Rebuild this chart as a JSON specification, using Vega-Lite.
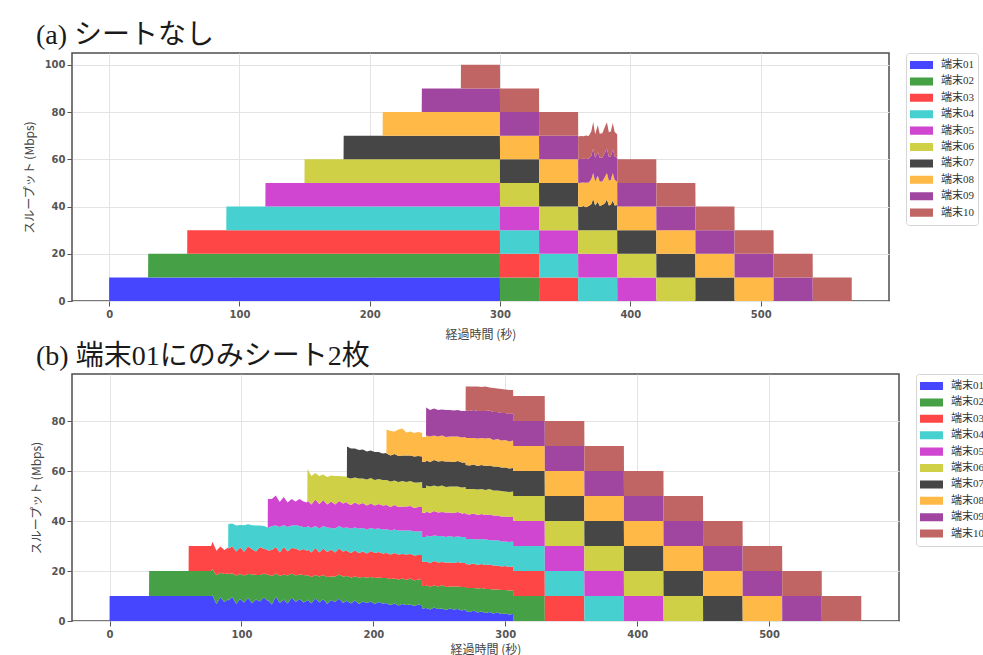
{
  "$schema": "https://vega.github.io/schema/vega-lite/v6.json",
  "padding": {"left": 22, "top": 20, "right": 0, "bottom": 0},
  "background": "white",
  "spacing": 0,
  "config": {
    "view": {"stroke": "#4d4d4d", "strokeWidth": 1.5},
    "axis": {"grid": true, "gridColor": "#e3e3e3", "gridWidth": 1, "domain": false, "tickColor": "#555", "tickSize": 5, "labelFont": "DejaVu Sans", "labelFontSize": 10, "labelFontWeight": "bold", "labelColor": "#555", "titleFont": "Noto Sans CJK JP", "titleFontSize": 12, "titleFontWeight": "normal", "titleColor": "#444"},
    "legend": {"orient": "right", "offset": 17, "padding": 4, "strokeColor": "#d5d5d5", "fillColor": "white", "cornerRadius": 3, "symbolType": "M-1,-0.35H1V0.35H-1Z", "symbolSize": 529, "symbolStrokeWidth": 0, "symbolOpacity": 1, "labelOffset": 8, "labelFont": "Liberation Serif, Noto Sans CJK JP", "labelFontSize": 11, "labelColor": "#333", "clipHeight": 16, "rowPadding": 0.4}
  },
  "datasets": {
    "a": [
      {"t": 0, "端末01": 10},
      {"t": 29.9, "端末01": 10},
      {"t": 30, "端末01": 10, "端末02": 10},
      {"t": 59.9, "端末01": 10, "端末02": 10},
      {"t": 60, "端末01": 10, "端末02": 10, "端末03": 10},
      {"t": 89.9, "端末01": 10, "端末02": 10, "端末03": 10},
      {"t": 90, "端末01": 10, "端末02": 10, "端末03": 10, "端末04": 10},
      {"t": 119.9, "端末01": 10, "端末02": 10, "端末03": 10, "端末04": 10},
      {"t": 120, "端末01": 10, "端末02": 10, "端末03": 10, "端末04": 10, "端末05": 10},
      {"t": 149.9, "端末01": 10, "端末02": 10, "端末03": 10, "端末04": 10, "端末05": 10},
      {"t": 150, "端末01": 10, "端末02": 10, "端末03": 10, "端末04": 10, "端末05": 10, "端末06": 10},
      {"t": 179.9, "端末01": 10, "端末02": 10, "端末03": 10, "端末04": 10, "端末05": 10, "端末06": 10},
      {"t": 180, "端末01": 10, "端末02": 10, "端末03": 10, "端末04": 10, "端末05": 10, "端末06": 10, "端末07": 10},
      {"t": 209.9, "端末01": 10, "端末02": 10, "端末03": 10, "端末04": 10, "端末05": 10, "端末06": 10, "端末07": 10},
      {"t": 210, "端末01": 10, "端末02": 10, "端末03": 10, "端末04": 10, "端末05": 10, "端末06": 10, "端末07": 10, "端末08": 10},
      {"t": 239.9, "端末01": 10, "端末02": 10, "端末03": 10, "端末04": 10, "端末05": 10, "端末06": 10, "端末07": 10, "端末08": 10},
      {"t": 240, "端末01": 10, "端末02": 10, "端末03": 10, "端末04": 10, "端末05": 10, "端末06": 10, "端末07": 10, "端末08": 10, "端末09": 10},
      {"t": 269.9, "端末01": 10, "端末02": 10, "端末03": 10, "端末04": 10, "端末05": 10, "端末06": 10, "端末07": 10, "端末08": 10, "端末09": 10},
      {"t": 270, "端末01": 10, "端末02": 10, "端末03": 10, "端末04": 10, "端末05": 10, "端末06": 10, "端末07": 10, "端末08": 10, "端末09": 10, "端末10": 10},
      {"t": 299.9, "端末01": 10, "端末02": 10, "端末03": 10, "端末04": 10, "端末05": 10, "端末06": 10, "端末07": 10, "端末08": 10, "端末09": 10, "端末10": 10},
      {"t": 300, "端末02": 10, "端末03": 10, "端末04": 10, "端末05": 10, "端末06": 10, "端末07": 10, "端末08": 10, "端末09": 10, "端末10": 10},
      {"t": 329.9, "端末02": 10, "端末03": 10, "端末04": 10, "端末05": 10, "端末06": 10, "端末07": 10, "端末08": 10, "端末09": 10, "端末10": 10},
      {"t": 330, "端末03": 10, "端末04": 10, "端末05": 10, "端末06": 10, "端末07": 10, "端末08": 10, "端末09": 10, "端末10": 10},
      {"t": 359.9, "端末03": 10, "端末04": 10, "端末05": 10, "端末06": 10, "端末07": 10, "端末08": 10, "端末09": 10, "端末10": 10},
      {"t": 360, "端末04": 10, "端末05": 10, "端末06": 10, "端末07": 10, "端末08": 10, "端末09": 10, "端末10": 9.6},
      {"t": 362, "端末04": 10, "端末05": 10, "端末06": 10, "端末07": 9.8, "端末08": 10.3, "端末09": 10, "端末10": 9.8},
      {"t": 364, "端末04": 10, "端末05": 10, "端末06": 10, "端末07": 10.2, "端末08": 10, "端末09": 10, "端末10": 9.6},
      {"t": 366, "端末04": 10, "端末05": 10, "端末06": 10, "端末07": 9.7, "端末08": 10.4, "端末09": 10, "端末10": 10},
      {"t": 368, "端末04": 10, "端末05": 10, "端末06": 10, "端末07": 10.2, "端末08": 10, "端末09": 10, "端末10": 9.7},
      {"t": 370, "端末04": 10, "端末05": 10, "端末06": 10, "端末07": 11, "端末08": 10.5, "端末09": 10, "端末10": 10.3},
      {"t": 371.5, "端末04": 10, "端末05": 10, "端末06": 10, "端末07": 13.2, "端末08": 11, "端末09": 10.4, "端末10": 11.2},
      {"t": 373, "端末04": 10, "端末05": 10, "端末06": 10, "端末07": 10.4, "端末08": 10.2, "端末09": 10, "端末10": 10},
      {"t": 375, "端末04": 10, "端末05": 10, "端末06": 10, "端末07": 12, "端末08": 11, "端末09": 10, "端末10": 11.4},
      {"t": 376.5, "端末04": 10, "端末05": 10, "端末06": 10, "端末07": 10.2, "端末08": 10.4, "端末09": 10, "端末10": 10.2},
      {"t": 378.5, "端末04": 10, "端末05": 10, "端末06": 10, "端末07": 10.6, "端末08": 10, "端末09": 10, "端末10": 10.4},
      {"t": 380.5, "端末04": 10, "端末05": 10, "端末06": 10, "端末07": 11.4, "端末08": 11.2, "端末09": 10.2, "端末10": 11},
      {"t": 382, "端末04": 10, "端末05": 10, "端末06": 10, "端末07": 13, "端末08": 11.2, "端末09": 10.3, "端末10": 11.2},
      {"t": 383.5, "端末04": 10, "端末05": 10, "端末06": 10, "端末07": 10.4, "端末08": 10.6, "端末09": 10, "端末10": 10.4},
      {"t": 385, "端末04": 10, "端末05": 10, "端末06": 10, "端末07": 10.8, "端末08": 10.4, "端末09": 10, "端末10": 10.6},
      {"t": 386.5, "端末04": 10, "端末05": 10, "端末06": 10, "端末07": 12.6, "端末08": 11.6, "端末09": 10, "端末10": 11.2},
      {"t": 388, "端末04": 10, "端末05": 10, "端末06": 10, "端末07": 10.4, "端末08": 10.8, "端末09": 10, "端末10": 10.4},
      {"t": 389.9, "端末04": 10, "端末05": 10, "端末06": 10, "端末07": 10.6, "端末08": 10, "端末09": 10, "端末10": 10},
      {"t": 390, "端末05": 10, "端末06": 10, "端末07": 10, "端末08": 10, "端末09": 10, "端末10": 10},
      {"t": 419.9, "端末05": 10, "端末06": 10, "端末07": 10, "端末08": 10, "端末09": 10, "端末10": 10},
      {"t": 420, "端末06": 10, "端末07": 10, "端末08": 10, "端末09": 10, "端末10": 10},
      {"t": 449.9, "端末06": 10, "端末07": 10, "端末08": 10, "端末09": 10, "端末10": 10},
      {"t": 450, "端末07": 10, "端末08": 10, "端末09": 10, "端末10": 10},
      {"t": 479.9, "端末07": 10, "端末08": 10, "端末09": 10, "端末10": 10},
      {"t": 480, "端末08": 10, "端末09": 10, "端末10": 10},
      {"t": 509.9, "端末08": 10, "端末09": 10, "端末10": 10},
      {"t": 510, "端末09": 10, "端末10": 10},
      {"t": 539.9, "端末09": 10, "端末10": 10},
      {"t": 540, "端末10": 10},
      {"t": 569.9, "端末10": 10}
    ],
    "b": [
      {"t": 0, "端末01": 10},
      {"t": 29.9, "端末01": 10},
      {"t": 30, "端末01": 10, "端末02": 10},
      {"t": 59.9, "端末01": 10, "端末02": 10},
      {"t": 60, "端末01": 10, "端末02": 10, "端末03": 10},
      {"t": 77, "端末01": 10, "端末02": 10, "端末03": 10},
      {"t": 78, "端末01": 10.2, "端末02": 10.5, "端末03": 11},
      {"t": 81, "端末01": 6.8, "端末02": 11.5, "端末03": 9.8},
      {"t": 84, "端末01": 9.5, "端末02": 9.8, "端末03": 10.5},
      {"t": 87, "端末01": 7.6, "端末02": 11.2, "端末03": 9.6},
      {"t": 89.9, "端末01": 8.8, "端末02": 10.2, "端末03": 10.4},
      {"t": 90, "端末01": 8.2, "端末02": 10.6, "端末03": 10.2, "端末04": 9.8},
      {"t": 93, "端末01": 9.6, "端末02": 9.4, "端末03": 10.8, "端末04": 9.2},
      {"t": 96, "端末01": 6.9, "端末02": 11.3, "端末03": 9.6, "端末04": 10.4},
      {"t": 99, "端末01": 8.8, "端末02": 10, "端末03": 10.6, "端末04": 9},
      {"t": 102, "端末01": 7.4, "端末02": 10.8, "端末03": 9.5, "端末04": 10.6},
      {"t": 105, "端末01": 9.2, "端末02": 9.6, "端末03": 11.1, "端末04": 8.8},
      {"t": 108, "端末01": 7.1, "端末02": 11.6, "端末03": 10, "端末04": 9.6},
      {"t": 111, "端末01": 8.6, "端末02": 9.8, "端末03": 9.4, "端末04": 10.4},
      {"t": 114, "端末01": 7.8, "端末02": 10.6, "端末03": 11.2, "端末04": 8.6},
      {"t": 117, "端末01": 9.4, "端末02": 9.6, "端末03": 9.8, "端末04": 9.2},
      {"t": 119.9, "端末01": 8, "端末02": 10.4, "端末03": 10.2, "端末04": 8.8},
      {"t": 120, "端末01": 8.4, "端末02": 10.2, "端末03": 9.6, "端末04": 9, "端末05": 11.6},
      {"t": 123, "端末01": 6.6, "端末02": 11.4, "端末03": 10.4, "端末04": 9.6, "端末05": 10.8},
      {"t": 126, "端末01": 9.8, "端末02": 9.2, "端末03": 10.6, "端末04": 8.6, "端末05": 12},
      {"t": 129, "端末01": 7.2, "端末02": 10.8, "端末03": 9.4, "端末04": 10.2, "端末05": 10},
      {"t": 132, "端末01": 8.6, "端末02": 10, "端末03": 11, "端末04": 8.8, "端末05": 11.2},
      {"t": 135, "端末01": 7, "端末02": 11.2, "端末03": 9.6, "端末04": 9.8, "端末05": 9.8},
      {"t": 138, "端末01": 9.4, "端末02": 9.6, "端末03": 10.2, "端末04": 9, "端末05": 10.6},
      {"t": 141, "端末01": 7.6, "端末02": 10.6, "端末03": 10.8, "端末04": 9.4, "端末05": 9.4},
      {"t": 144, "端末01": 8.8, "端末02": 9.8, "端末03": 9.6, "端末04": 9.8, "端末05": 10.8},
      {"t": 147, "端末01": 7.4, "端末02": 11, "端末03": 10.4, "端末04": 8.8, "端末05": 10.2},
      {"t": 149.9, "端末01": 8.2, "端末02": 10, "端末03": 9.8, "端末04": 9.6, "端末05": 9.8},
      {"t": 150, "端末01": 8.6, "端末02": 9.8, "端末03": 10.4, "端末04": 9.2, "端末05": 10.2, "端末06": 12.6},
      {"t": 153, "端末01": 7, "端末02": 10.6, "端末03": 9.8, "端末04": 9.8, "端末05": 9.4, "端末06": 11.4},
      {"t": 156, "端末01": 9.2, "端末02": 9.2, "端末03": 10.8, "端末04": 8.8, "端末05": 10.6, "端末06": 10.6},
      {"t": 159, "端末01": 7.4, "端末02": 10.4, "端末03": 9.6, "端末04": 9.6, "端末05": 9.8, "端末06": 11.2},
      {"t": 162, "端末01": 8.8, "端末02": 9.6, "端末03": 10.6, "端末04": 9, "端末05": 10.4, "端末06": 10.2},
      {"t": 165, "端末01": 6.8, "端末02": 10.8, "端末03": 10, "端末04": 9.8, "端末05": 9.2, "端末06": 11},
      {"t": 168, "端末01": 8.4, "端末02": 9.4, "端末03": 10.8, "端末04": 8.6, "端末05": 10.6, "端末06": 10.4},
      {"t": 171, "端末01": 7.6, "端末02": 10.2, "端末03": 9.6, "端末04": 9.6, "端末05": 9.6, "端末06": 11.4},
      {"t": 174, "端末01": 9, "端末02": 9.6, "端末03": 10.4, "端末04": 9, "端末05": 10, "端末06": 10},
      {"t": 177, "端末01": 7.2, "端末02": 10.6, "端末03": 10, "端末04": 9.4, "端末05": 9.8, "端末06": 10.8},
      {"t": 179.9, "端末01": 8.2, "端末02": 9.8, "端末03": 10.2, "端末04": 9.2, "端末05": 10.2, "端末06": 10.2},
      {"t": 180, "端末01": 8, "端末02": 10, "端末03": 10, "端末04": 9.4, "端末05": 9.8, "端末06": 10.2, "端末07": 12.4},
      {"t": 183, "端末01": 7, "端末02": 10.4, "端末03": 9.8, "端末04": 9.8, "端末05": 9.4, "端末06": 10.6, "端末07": 12},
      {"t": 186, "端末01": 8.2, "端末02": 9.6, "端末03": 10.4, "端末04": 9.2, "端末05": 10, "端末06": 10, "端末07": 11.6},
      {"t": 189, "端末01": 6.8, "端末02": 10.6, "端末03": 9.8, "端末04": 9.8, "端末05": 9.6, "端末06": 10.4, "端末07": 11.4},
      {"t": 192, "端末01": 7.8, "端末02": 9.8, "端末03": 10.2, "端末04": 9.4, "端末05": 10, "端末06": 9.8, "端末07": 11.6},
      {"t": 195, "端末01": 7.2, "端末02": 10.2, "端末03": 9.6, "端末04": 9.6, "端末05": 9.6, "端末06": 10.4, "端末07": 11.2},
      {"t": 198, "端末01": 7.8, "端末02": 9.8, "端末03": 10.4, "端末04": 9.2, "端末05": 9.8, "端末06": 10.2, "端末07": 11},
      {"t": 201, "端末01": 6.8, "端末02": 10.4, "端末03": 10, "端末04": 9.6, "端末05": 9.4, "端末06": 10.2, "端末07": 11.2},
      {"t": 204, "端末01": 7.6, "端末02": 9.8, "端末03": 10.2, "端末04": 9.4, "端末05": 9.8, "端末06": 10, "端末07": 10.8},
      {"t": 207, "端末01": 7, "端末02": 10.2, "端末03": 9.8, "端末04": 9.6, "端末05": 9.6, "端末06": 10.2, "端末07": 10.6},
      {"t": 209.9, "端末01": 7.2, "端末02": 10, "端末03": 10, "端末04": 9.4, "端末05": 9.8, "端末06": 10, "端末07": 10.8},
      {"t": 210, "端末01": 7, "端末02": 10.2, "端末03": 10, "端末04": 9.6, "端末05": 9.6, "端末06": 10, "端末07": 10.6, "端末08": 9.6},
      {"t": 213, "端末01": 6.4, "端末02": 10.4, "端末03": 9.8, "端末04": 9.6, "端末05": 9.4, "端末06": 10.2, "端末07": 10.4, "端末08": 9.8},
      {"t": 216, "端末01": 7, "端末02": 10, "端末03": 10.2, "端末04": 9.4, "端末05": 9.8, "端末06": 9.8, "端末07": 10.6, "端末08": 9},
      {"t": 219, "端末01": 6.2, "端末02": 10.4, "端末03": 10, "端末04": 9.6, "端末05": 9.4, "端末06": 10, "端末07": 10.4, "端末08": 10.6},
      {"t": 222, "端末01": 6.8, "端末02": 10.2, "端末03": 9.8, "端末04": 9.4, "端末05": 9.6, "端末06": 10.2, "端末07": 10.2, "端末08": 10.8},
      {"t": 225, "端末01": 6.4, "端末02": 10, "端末03": 10.2, "端末04": 9.6, "端末05": 9.6, "端末06": 9.8, "端末07": 10.6, "端末08": 9.2},
      {"t": 228, "端末01": 6.6, "端末02": 10.4, "端末03": 9.8, "端末04": 9.4, "端末05": 9.8, "端末06": 10, "端末07": 10.2, "端末08": 9.6},
      {"t": 231, "端末01": 6, "端末02": 10.2, "端末03": 10, "端末04": 9.6, "端末05": 9.4, "端末06": 10.2, "端末07": 10.4, "端末08": 9.4},
      {"t": 234, "端末01": 6.6, "端末02": 10, "端末03": 9.8, "端末04": 9.4, "端末05": 9.8, "端末06": 9.8, "端末07": 10.6, "端末08": 9.6},
      {"t": 236.9, "端末01": 6.2, "端末02": 10.2, "端末03": 10, "端末04": 9.6, "端末05": 9.6, "端末06": 10, "端末07": 10.2, "端末08": 9.4},
      {"t": 237, "端末01": 5, "端末02": 9, "端末03": 9.6, "端末04": 10, "端末05": 9.6, "端末06": 10, "端末07": 10.4, "端末08": 10},
      {"t": 239.9, "端末01": 5.2, "端末02": 8.8, "端末03": 9.8, "端末04": 9.8, "端末05": 9.8, "端末06": 9.8, "端末07": 10.6, "端末08": 9.8},
      {"t": 240, "端末01": 5.2, "端末02": 9, "端末03": 9.6, "端末04": 10.4, "端末05": 9.6, "端末06": 10.4, "端末07": 10, "端末08": 10, "端末09": 11.2},
      {"t": 243, "端末01": 4.6, "端末02": 9.2, "端末03": 9.4, "端末04": 10.6, "端末05": 9.4, "端末06": 10.6, "端末07": 9.8, "端末08": 10.2, "端末09": 10.6},
      {"t": 246, "端末01": 5.4, "端末02": 8.8, "端末03": 9.8, "端末04": 10.2, "端末05": 9.8, "端末06": 10.2, "端末07": 10.2, "端末08": 9.8, "端末09": 10.8},
      {"t": 249, "端末01": 4.8, "端末02": 9, "端末03": 9.6, "端末04": 10.6, "端末05": 9.4, "端末06": 10.4, "端末07": 10, "端末08": 10, "端末09": 10.6},
      {"t": 252, "端末01": 5, "端末02": 9.4, "端末03": 9.2, "端末04": 10.4, "端末05": 9.6, "端末06": 10.6, "端末07": 9.8, "端末08": 10.2, "端末09": 10.4},
      {"t": 255, "端末01": 4.4, "端末02": 9.2, "端末03": 9.8, "端末04": 10.2, "端末05": 9.8, "端末06": 10.2, "端末07": 10.2, "端末08": 9.8, "端末09": 10.8},
      {"t": 258, "端末01": 5, "端末02": 8.8, "端末03": 9.6, "端末04": 10.6, "端末05": 9.4, "端末06": 10.4, "端末07": 10, "端末08": 10, "端末09": 10.6},
      {"t": 261, "端末01": 4.6, "端末02": 9.2, "端末03": 9.4, "端末04": 10.4, "端末05": 9.6, "端末06": 10.6, "端末07": 9.8, "端末08": 10.2, "端末09": 10.4},
      {"t": 264, "端末01": 4.8, "端末02": 9, "端末03": 9.8, "端末04": 10.2, "端末05": 9.8, "端末06": 10.2, "端末07": 10.2, "端末08": 9.8, "端末09": 10.6},
      {"t": 267, "端末01": 4.2, "端末02": 9.4, "端末03": 9.6, "端末04": 10.4, "端末05": 9.4, "端末06": 10.4, "端末07": 10, "端末08": 10, "端末09": 10.6},
      {"t": 269.9, "端末01": 4.6, "端末02": 9, "端末03": 9.6, "端末04": 10.4, "端末05": 9.6, "端末06": 10.4, "端末07": 9.8, "端末08": 10.2, "端末09": 10.4},
      {"t": 270, "端末01": 4, "端末02": 9.2, "端末03": 9.6, "端末04": 10, "端末05": 10, "端末06": 10, "端末07": 9.6, "端末08": 10.8, "端末09": 11, "端末10": 9.6},
      {"t": 273, "端末01": 3.6, "端末02": 9.6, "端末03": 9.4, "端末04": 10.2, "端末05": 9.8, "端末06": 10.2, "端末07": 9.4, "端末08": 11, "端末09": 10.8, "端末10": 9.8},
      {"t": 276, "端末01": 4.2, "端末02": 9, "端末03": 9.8, "端末04": 9.8, "端末05": 10.2, "端末06": 9.8, "端末07": 9.8, "端末08": 10.6, "端末09": 11.2, "端末10": 9.4},
      {"t": 279, "端末01": 3.4, "端末02": 9.6, "端末03": 9.4, "端末04": 10.2, "端末05": 9.8, "端末06": 10.2, "端末07": 9.4, "端末08": 11, "端末09": 11, "端末10": 9.8},
      {"t": 282, "端末01": 3.8, "端末02": 9.4, "端末03": 9.6, "端末04": 10, "端末05": 10, "端末06": 10, "端末07": 9.6, "端末08": 10.8, "端末09": 10.8, "端末10": 9.6},
      {"t": 285, "端末01": 3.2, "端末02": 9.6, "端末03": 9.6, "端末04": 10.2, "端末05": 9.8, "端末06": 10, "端末07": 9.6, "端末08": 11, "端末09": 11, "端末10": 9.8},
      {"t": 288, "端末01": 3.6, "端末02": 9.2, "端末03": 9.8, "端末04": 9.8, "端末05": 10.2, "端末06": 10.2, "端末07": 9.4, "端末08": 11, "端末09": 11, "端末10": 9.2},
      {"t": 291, "端末01": 3, "端末02": 9.6, "端末03": 9.6, "端末04": 10, "端末05": 10, "端末06": 10, "端末07": 9.6, "端末08": 10.6, "端末09": 11.2, "端末10": 9.6},
      {"t": 294, "端末01": 3.4, "端末02": 9.2, "端末03": 9.6, "端末04": 10.2, "端末05": 9.8, "端末06": 10, "端末07": 9.6, "端末08": 11, "端末09": 10.8, "端末10": 9.4},
      {"t": 297, "端末01": 2.8, "端末02": 9.6, "端末03": 9.4, "端末04": 10, "端末05": 10, "端末06": 10.2, "端末07": 9.4, "端末08": 10.8, "端末09": 11, "端末10": 9.6},
      {"t": 300, "端末01": 3, "端末02": 9.4, "端末03": 9.6, "端末04": 9.8, "端末05": 10, "端末06": 10, "端末07": 9.6, "端末08": 11, "端末09": 10.8, "端末10": 9.4},
      {"t": 303, "端末01": 2.6, "端末02": 9.6, "端末03": 9.4, "端末04": 10, "端末05": 10, "端末06": 10, "端末07": 9.4, "端末08": 10.8, "端末09": 11, "端末10": 9.6},
      {"t": 305.9, "端末01": 2.8, "端末02": 9.4, "端末03": 9.6, "端末04": 10, "端末05": 9.8, "端末06": 10.2, "端末07": 9.4, "端末08": 11, "端末09": 10.8, "端末10": 9.4},
      {"t": 306, "端末02": 10, "端末03": 10, "端末04": 10, "端末05": 10, "端末06": 10, "端末07": 10, "端末08": 10, "端末09": 10, "端末10": 10},
      {"t": 329.9, "端末02": 10, "端末03": 10, "端末04": 10, "端末05": 10, "端末06": 10, "端末07": 10, "端末08": 10, "端末09": 10, "端末10": 10},
      {"t": 330, "端末03": 10, "端末04": 10, "端末05": 10, "端末06": 10, "端末07": 10, "端末08": 10, "端末09": 10, "端末10": 10},
      {"t": 359.9, "端末03": 10, "端末04": 10, "端末05": 10, "端末06": 10, "端末07": 10, "端末08": 10, "端末09": 10, "端末10": 10},
      {"t": 360, "端末04": 10, "端末05": 10, "端末06": 10, "端末07": 10, "端末08": 10, "端末09": 10, "端末10": 10},
      {"t": 389.9, "端末04": 10, "端末05": 10, "端末06": 10, "端末07": 10, "端末08": 10, "端末09": 10, "端末10": 10},
      {"t": 390, "端末05": 10, "端末06": 10, "端末07": 10, "端末08": 10, "端末09": 10, "端末10": 10},
      {"t": 419.9, "端末05": 10, "端末06": 10, "端末07": 10, "端末08": 10, "端末09": 10, "端末10": 10},
      {"t": 420, "端末06": 10, "端末07": 10, "端末08": 10, "端末09": 10, "端末10": 10},
      {"t": 449.9, "端末06": 10, "端末07": 10, "端末08": 10, "端末09": 10, "端末10": 10},
      {"t": 450, "端末07": 10, "端末08": 10, "端末09": 10, "端末10": 10},
      {"t": 479.9, "端末07": 10, "端末08": 10, "端末09": 10, "端末10": 10},
      {"t": 480, "端末08": 10, "端末09": 10, "端末10": 10},
      {"t": 509.9, "端末08": 10, "端末09": 10, "端末10": 10},
      {"t": 510, "端末09": 10, "端末10": 10},
      {"t": 539.9, "端末09": 10, "端末10": 10},
      {"t": 540, "端末10": 10},
      {"t": 569.9, "端末10": 10}
    ]
  },
  "vconcat": [
    {
      "width": 817,
      "height": 248,
      "title": {"text": "(a) シートなし", "anchor": "start", "frame": "group", "dx": -36, "offset": 3, "font": "Liberation Serif, Noto Sans CJK JP", "fontSize": 28, "fontWeight": "normal", "color": "#1a1a1a"},
      "data": {"name": "a"},
      "transform": [
        {"fold": ["端末01", "端末02", "端末03", "端末04", "端末05", "端末06", "端末07", "端末08", "端末09", "端末10"], "as": ["dev", "v"]},
        {"filter": "isValid(datum.v)"}
      ],
      "mark": {"type": "area", "interpolate": "linear", "opacity": 1},
      "encoding": {
        "x": {"field": "t", "type": "quantitative", "scale": {"domain": [-28.5, 598.5], "nice": false, "zero": false}, "axis": {"values": [0, 100, 200, 300, 400, 500], "title": "経過時間 (秒)", "labelPadding": 3, "titlePadding": 10}},
        "y": {"field": "v", "type": "quantitative", "stack": "zero", "scale": {"domain": [0, 105], "nice": false}, "axis": {"values": [0, 20, 40, 60, 80, 100], "title": "スループット (Mbps)", "labelPadding": 2, "titlePadding": 8}},
        "color": {"field": "dev", "type": "nominal", "scale": {"domain": ["端末01", "端末02", "端末03", "端末04", "端末05", "端末06", "端末07", "端末08", "端末09", "端末10"], "range": ["#4646ff", "#46a046", "#ff4646", "#46d0d0", "#d046d0", "#d0d046", "#464646", "#ffb946", "#a046a0", "#c06464"]}, "legend": {"title": null}},
        "order": {"field": "dev", "sort": "ascending"}
      }
    },
    {
      "width": 827,
      "height": 247,
      "title": {"text": "(b) 端末01にのみシート2枚", "anchor": "start", "frame": "group", "dx": -36, "offset": 3, "font": "Liberation Serif, Noto Sans CJK JP", "fontSize": 28, "fontWeight": "normal", "color": "#1a1a1a"},
      "data": {"name": "b"},
      "transform": [
        {"fold": ["端末01", "端末02", "端末03", "端末04", "端末05", "端末06", "端末07", "端末08", "端末09", "端末10"], "as": ["dev", "v"]},
        {"filter": "isValid(datum.v)"}
      ],
      "mark": {"type": "area", "interpolate": "linear", "opacity": 1},
      "encoding": {
        "x": {"field": "t", "type": "quantitative", "scale": {"domain": [-28.5, 598.5], "nice": false, "zero": false}, "axis": {"values": [0, 100, 200, 300, 400, 500], "title": "経過時間 (秒)", "labelPadding": 3, "titlePadding": 5}},
        "y": {"field": "v", "type": "quantitative", "stack": "zero", "scale": {"domain": [0, 98.8], "nice": false}, "axis": {"values": [0, 20, 40, 60, 80], "title": "スループット (Mbps)", "labelPadding": 2, "titlePadding": 8}},
        "color": {"field": "dev", "type": "nominal", "scale": {"domain": ["端末01", "端末02", "端末03", "端末04", "端末05", "端末06", "端末07", "端末08", "端末09", "端末10"], "range": ["#4646ff", "#46a046", "#ff4646", "#46d0d0", "#d046d0", "#d0d046", "#464646", "#ffb946", "#a046a0", "#c06464"]}, "legend": {"title": null}},
        "order": {"field": "dev", "sort": "ascending"}
      }
    }
  ],
  "resolve": {"scale": {"color": "independent", "x": "independent", "y": "independent"}, "legend": {"color": "independent"}}
}
